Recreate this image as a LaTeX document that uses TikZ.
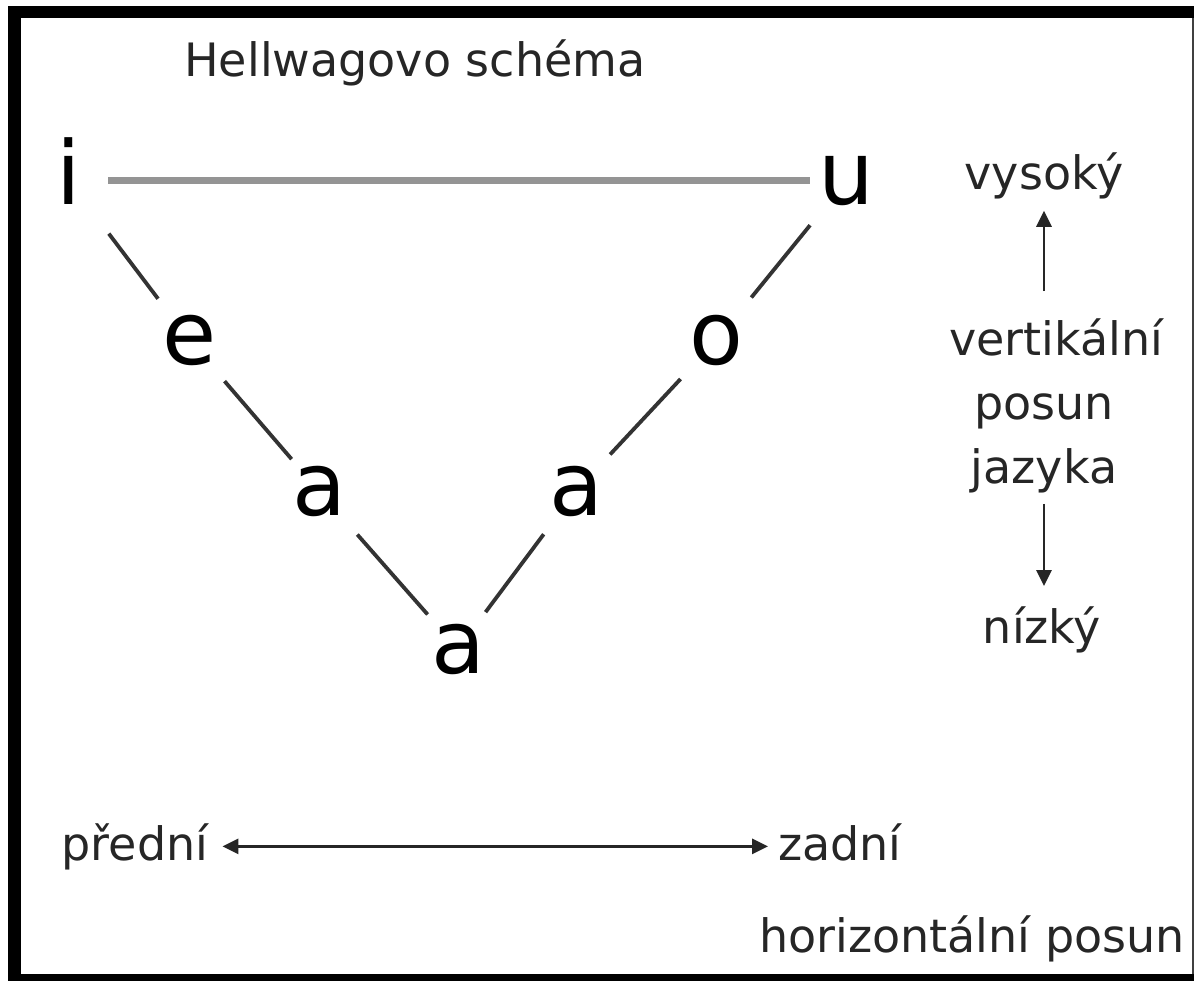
\documentclass[tikz,border=0pt]{standalone}
\usepackage{fontspec}
\setmainfont{DejaVu Sans}
\usetikzlibrary{arrows.meta}
\tikzset{
  vowel/.style={font=\fontsize{88}{88}\selectfont, inner sep=0pt, text height=48pt, text depth=0pt, anchor=center, text=black},
  lbl/.style={font=\fontsize{46}{46}\selectfont, inner sep=0pt, anchor=base, text=black!85},
  seg/.style={draw=black!80, line width=3.8pt},
  topline/.style={draw=black!42, line width=7pt},
  arr/.style={draw=black!85, line width=2.8pt, -{Triangle[length=16pt,width=15pt]}},
  darr/.style={draw=black!85, line width=2.8pt, {Triangle[length=16pt,width=15pt]}-{Triangle[length=16pt,width=15pt]}},
  frame/.style={fill=black, draw=none}
}
\begin{document}
\begin{tikzpicture}[x=1pt,y=-1pt]
\useasboundingbox (0,0) rectangle (1194,981);
\fill[white] (0,0) rectangle (1194,981);
% frame
\fill[frame] (8,6) rectangle (1194,18);
\fill[frame] (8,6) rectangle (21,981);
\fill[frame] (8,974) rectangle (1194,981);
\fill[black!75] (1192,18) rectangle (1194,974);
% title
\node[lbl] (title) at (415,77) {Hellwagovo schéma};
% vowels
\node[vowel] (i) at (69,181) {i};
\node[vowel] (u) at (846,181) {u};
\node[vowel] (e) at (190,341) {e};
\node[vowel] (o) at (716,341) {o};
\node[vowel] (al) at (319,491) {a};
\node[vowel] (ar) at (576,491) {a};
\node[vowel] (ab) at (458,649) {a};
% connectors
\draw[topline, shorten <=39pt, shorten >=36pt] (i.center) -- (u.center);
\draw[seg, shorten <=66pt, shorten >=53pt] (i.center) -- (e.center);
\draw[seg, shorten <=53pt, shorten >=42pt] (e.center) -- (al.center);
\draw[seg, shorten <=58pt, shorten >=46pt] (al.center) -- (ab.center);
\draw[seg, shorten <=46pt, shorten >=54pt] (ab.center) -- (ar.center);
\draw[seg, shorten <=50pt, shorten >=52pt] (ar.center) -- (o.center);
\draw[seg, shorten <=56pt, shorten >=57pt] (o.center) -- (u.center);
% right labels
\node[lbl] (vys) at (1044,190) {vysoký};
\node[lbl] (vert) at (1056,356) {vertikální};
\node[lbl] (pos) at (1044,420) {posun};
\node[lbl] (jaz) at (1044,483) {jazyka};
\node[lbl] (niz) at (1042,643) {nízký};
\draw[arr, shorten <=28pt, shorten >=11pt] (vert.north -| pos.center) -- (vys.south -| pos.center);
\draw[arr, shorten <=11pt, shorten >=20pt] (jaz.south -| pos.center) -- (niz.north -| pos.center);
% bottom labels
\node[lbl] (pred) at (135,860) {přední};
\node[lbl] (zad) at (840,860) {zadní};
\node[lbl, anchor=base east] (hor) at (1185,952) {horizontální posun};
\draw[darr, shorten <=14pt, shorten >=10pt] (pred.east) -- (pred.east -| zad.west);
\end{tikzpicture}
\end{document}
